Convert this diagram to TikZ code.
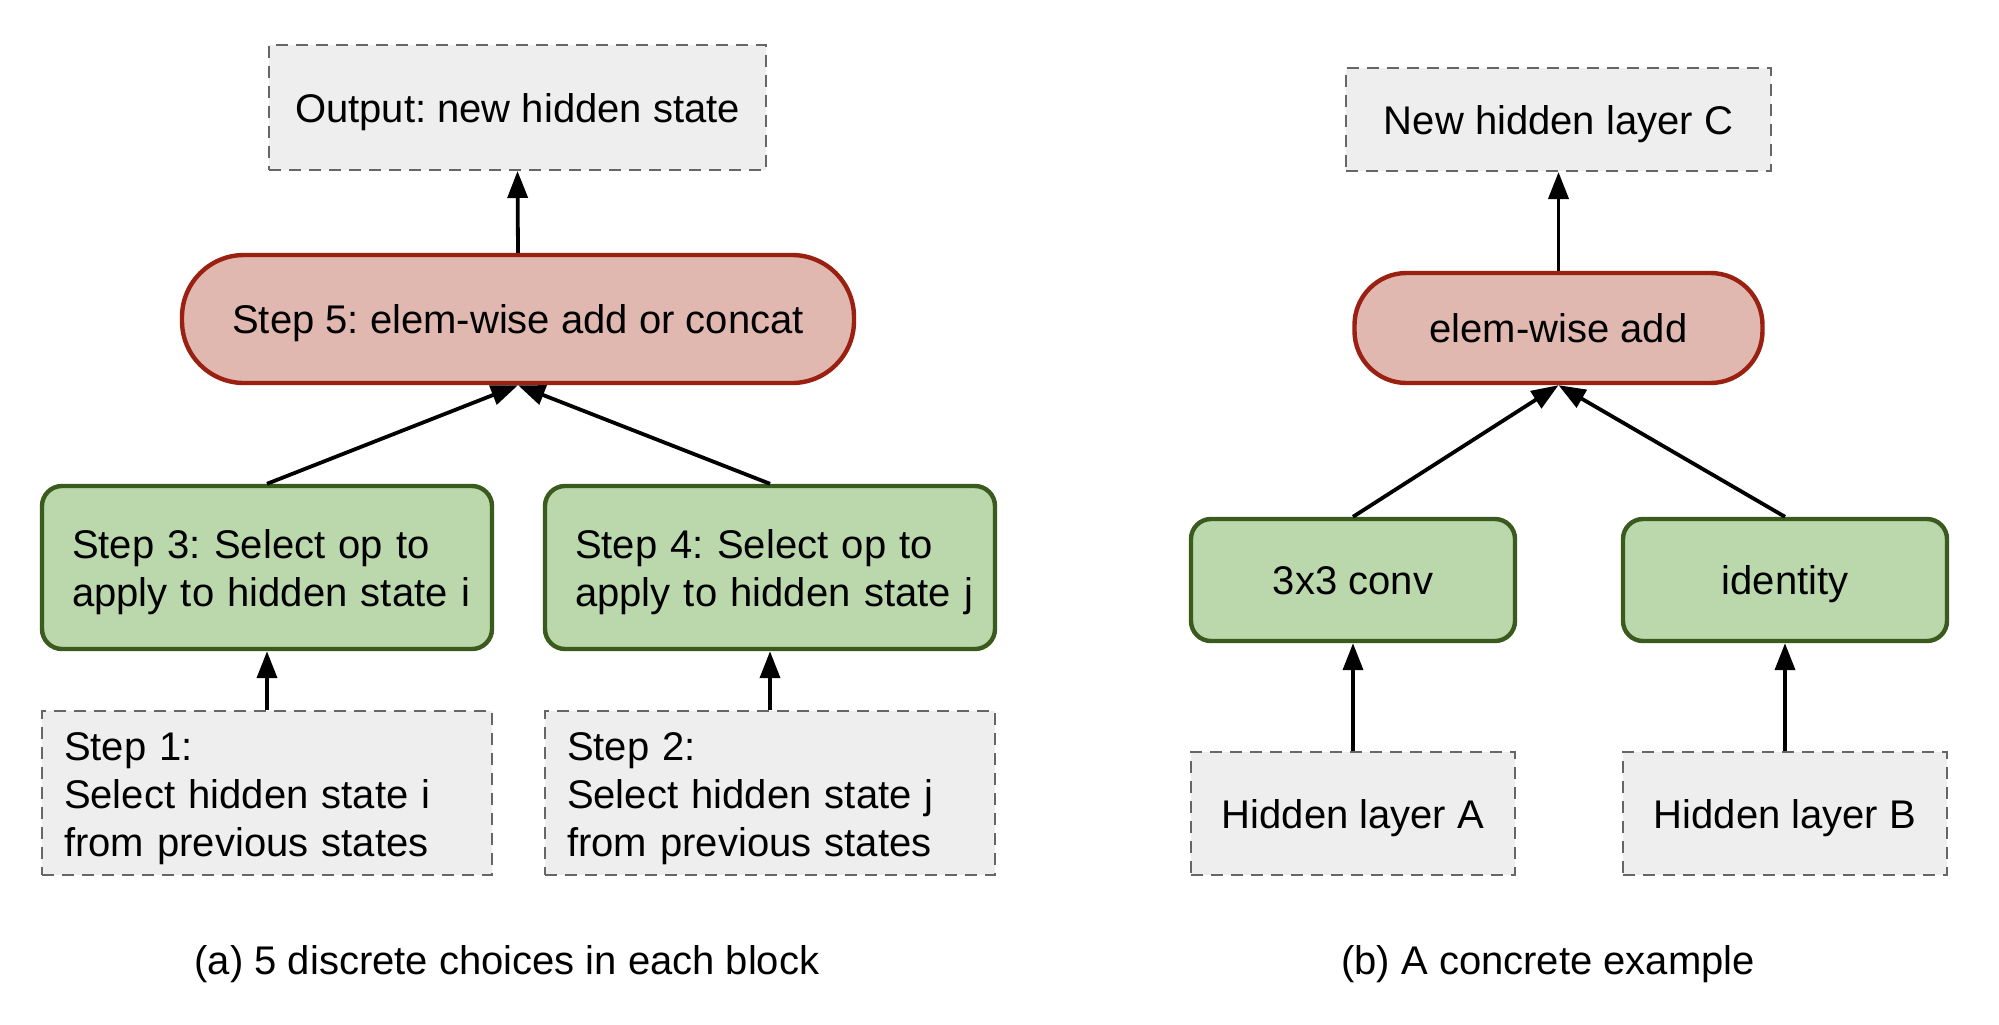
\documentclass[tikz,border=0pt]{standalone}
\usepackage{fontspec}
\setmainfont{Liberation Sans}
\usetikzlibrary{arrows.meta}
\definecolor{greyfill}{HTML}{EEEEEE}
\definecolor{greyline}{HTML}{666666}
\definecolor{greenfill}{HTML}{BBD7AC}
\definecolor{greenline}{HTML}{3A5A1E}
\definecolor{redfill}{HTML}{E0B8B0}
\definecolor{redline}{HTML}{9A2012}
\newcommand{\ind}{\hspace*{5pt}}
\tikzset{
  every node/.style={font=\fontsize{20}{24}\selectfont\frenchspacing, inner sep=0pt},
  one/.style={text height=19pt, text depth=4.5pt},
  multi/.style={text height=19.6pt, align=left},
  greybox/.style={draw=greyline, fill=greyfill, line width=1pt, dash pattern=on 6pt off 4pt},
  greenbox/.style={draw=greenline, fill=greenfill, line width=2.2pt, rounded corners=10pt},
  pill/.style={draw=redline, fill=redfill, line width=2.2pt},
  conn/.style={line width=1.9pt, -{Triangle[length=13.5pt,width=10pt]}},
}
\begin{document}
\begin{tikzpicture}[x=0.5pt, y=-0.5pt]
\useasboundingbox (0,0) rectangle (1999,1024);
% (a)
\node[greybox, one, minimum width=248.5pt, minimum height=62.5pt] (out) at (517.5,107.5) {Output: new hidden state};
\node[pill, one, rounded corners=31pt, minimum width=336pt, minimum height=64pt] (s5) at (518,319) {Step 5: elem-wise add or concat};
\node[greenbox, multi, minimum height=81.5pt, text width=205pt, inner xsep=10pt] (s3) at (267,567.5) {\ind Step 3: Select op to\\\ind apply to hidden state i};
\node[greenbox, multi, minimum height=81.5pt, text width=205pt, inner xsep=10pt] (s4) at (770,567.5) {\ind Step 4: Select op to\\\ind apply to hidden state j};
\node[greybox, multi, minimum height=82pt, text width=203pt, inner xsep=11pt] (s1) at (267,793) {Step 1:\\Select hidden state i\\from previous states};
\node[greybox, multi, minimum height=82pt, text width=203pt, inner xsep=11pt] (s2) at (770,793) {Step 2:\\Select hidden state j\\from previous states};
\node[one] (capa) at (507,960) {(a) 5 discrete choices in each block};
\draw[conn] (s5.north) -- (out.south);
\draw[conn] (s3.north) -- (s5.south);
\draw[conn] (s4.north) -- (s5.south);
\draw[conn] (s1.north) -- (s3.south);
\draw[conn] (s2.north) -- (s4.south);
% (b)
\node[greybox, one, minimum width=212.5pt, minimum height=51.5pt] (hc) at (1558.5,119.5) {New hidden layer C};
\node[pill, one, rounded corners=26pt, minimum width=204pt, minimum height=55pt] (add) at (1558.5,328) {elem-wise add};
\node[greenbox, one, minimum width=162pt, minimum height=61pt] (conv) at (1353,580) {3x3 conv};
\node[greenbox, one, minimum width=162pt, minimum height=61pt] (ident) at (1785,580) {identity};
\node[greybox, one, minimum width=162pt, minimum height=61.5pt] (ha) at (1353,813.5) {Hidden layer A};
\node[greybox, one, minimum width=162pt, minimum height=61.5pt] (hb) at (1785,813.5) {Hidden layer B};
\node[one] (capb) at (1548,960) {(b) A concrete example};
\draw[conn] (add.north) -- (hc.south);
\draw[conn] (conv.north) -- (add.south);
\draw[conn] (ident.north) -- (add.south);
\draw[conn] (ha.north) -- (conv.south);
\draw[conn] (hb.north) -- (ident.south);
\end{tikzpicture}
\end{document}
